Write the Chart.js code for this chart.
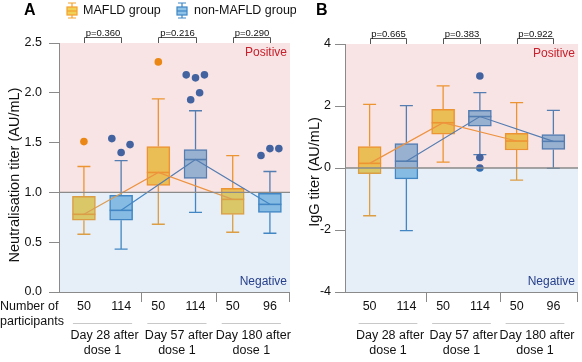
<!DOCTYPE html>
<html>
<head>
<meta charset="utf-8">
<script src="https://cdn.jsdelivr.net/npm/chart.js@4.4.1/dist/chart.umd.min.js"></script>
<style>
html, body { margin: 0; padding: 0; background: #fff; }
#wrap { position: relative; width: 582px; height: 362px; overflow: hidden; }
canvas { position: absolute; top: 0; }
#cA { left: 0; }
#cB { left: 296px; }
</style>
</head>
<body>
<div id="wrap">
  <canvas id="cA" width="296" height="362"></canvas>
  <canvas id="cB" width="286" height="362"></canvas>
</div>
<script>
const FONT = "'Liberation Sans', Arial, sans-serif";

// box slots on the x axis: odd = MAFLD, even = non-MAFLD
const mafldSlots = [1, 3, 5];
const nonSlots = [2, 4, 6];
const groupBounds = [2.57, 4.57];
const groupLine1 = ["Day 28 after", "Day 57 after", "Day 180 after"];
const groupLine2 = ["dose 1", "dose 1", "dose 1"];
const participants = [50, 114, 50, 114, 50, 96];

// panel A - neutralisation titer
const nabTicks = [0, 0.5, 1.0, 1.5, 2.0, 2.5];
const nabPValues = ["p=0.360", "p=0.216", "p=0.290"];
const nabMafldMin = [0.58, 0.68, 0.60];
const nabMafldQ1 = [0.72, 1.07, 0.78];
const nabMafldMed = [0.78, 1.20, 0.93];
const nabMafldQ3 = [0.96, 1.46, 1.04];
const nabMafldMax = [1.26, 1.94, 1.37];
const nabNonMin = [0.43, 0.80, 0.59];
const nabNonQ1 = [0.72, 1.14, 0.80];
const nabNonMed = [0.82, 1.33, 0.88];
const nabNonQ3 = [0.97, 1.43, 0.99];
const nabNonMax = [1.32, 1.82, 1.21];
const nabMafldOut = [[1.51], [2.31], []];
const nabMafldJit = [[0], [0], []];
const nabNonOut = [[1.54, 1.40, 1.48], [2.18, 2.15, 2.18, 1.93, 2.00], [1.37, 1.44, 1.44]];
const nabNonJit = [[-0.25, 0, 0.24], [-0.25, 0, 0.24, -0.13, 0.11], [-0.24, 0, 0.24]];

// panel B - IgG titer
const iggTicks = [-4, -2, 0, 2, 4];
const iggPValues = ["p=0.665", "p=0.383", "p=0.922"];
const iggMafldMin = [-1.54, 0.19, -0.39];
const iggMafldQ1 = [-0.18, 1.09, 0.58];
const iggMafldMed = [0.15, 1.46, 0.87];
const iggMafldQ3 = [0.69, 1.89, 1.12];
const iggMafldMax = [2.05, 2.65, 2.11];
const iggNonMin = [-2.02, 0.43, -0.01];
const iggNonQ1 = [-0.35, 1.35, 0.60];
const iggNonMed = [0.22, 1.66, 0.86];
const iggNonQ3 = [0.79, 1.86, 1.08];
const iggNonMax = [2.01, 2.43, 1.86];
const iggMafldOut = [[], [], []];
const iggMafldJit = [[], [], []];
const iggNonOut = [[], [2.97, 0.34, 0.0], []];
const iggNonJit = [[], [0, 0, 0], []];

const MAFLD_FILL = "#f0d257", MAFLD_EDGE = "#f3a12e", MAFLD_DOT = "#f0930c";
const NON_FILL = "#8fc4e8", NON_EDGE = "#3f86c4", NON_DOT = "#2a68b0";

function boxSet(label, slots, min, q1, med, q3, max, fill, edge) {
    return {
        type: "bar", label: label, order: 3,
        data: slots.map((s, i) => ({ x: s, y: [q1[i], q3[i]] })),
        backgroundColor: fill, borderColor: edge, borderWidth: 1.5,
        borderSkipped: false, barThickness: 23, grouped: false,
        wMin: min, wQ1: q1, wMed: med, wQ3: q3, wMax: max,
    };
}

function medianLine(slots, med, color) {
    return {
        type: "line", order: 2,
        data: slots.map((s, i) => ({ x: s, y: med[i] })),
        borderColor: color, borderWidth: 1.2, pointRadius: 0, fill: false, tension: 0,
    };
}

function outlierSet(slots, out, jit, color) {
    return {
        type: "scatter", order: 1,
        data: slots.flatMap((s, i) => out[i].map((v, j) => ({ x: s + jit[i][j], y: v }))),
        pointRadius: 3.8, pointBackgroundColor: color, pointBorderWidth: 0,
    };
}

function drawIcon(ctx, x, y, fill, edge) {
    ctx.save();
    ctx.strokeStyle = edge; ctx.fillStyle = fill; ctx.lineWidth = 1.2;
    ctx.beginPath();
    ctx.moveTo(x + 1, y); ctx.lineTo(x + 9, y);
    ctx.moveTo(x + 5, y); ctx.lineTo(x + 5, y + 15);
    ctx.moveTo(x + 1, y + 15); ctx.lineTo(x + 9, y + 15);
    ctx.stroke();
    ctx.fillRect(x, y + 4, 10, 8);
    ctx.strokeRect(x, y + 4, 10, 8);
    ctx.beginPath(); ctx.moveTo(x, y + 8); ctx.lineTo(x + 10, y + 8); ctx.stroke();
    ctx.restore();
}

const boxDeco = {
    id: "boxDeco",
    afterDatasetDraw(chart, args) {
        const ds = chart.data.datasets[args.index];
        if (!ds.wMin) return;
        const y = chart.scales.y, ctx = chart.ctx;
        ctx.save();
        ctx.strokeStyle = ds.borderColor;
        args.meta.data.forEach((bar, i) => {
            const x = bar.x, hw = bar.width / 2, cap = 6.5;
            const pMin = y.getPixelForValue(ds.wMin[i]);
            const pQ1 = y.getPixelForValue(ds.wQ1[i]);
            const pMed = y.getPixelForValue(ds.wMed[i]);
            const pQ3 = y.getPixelForValue(ds.wQ3[i]);
            const pMax = y.getPixelForValue(ds.wMax[i]);
            ctx.lineWidth = 1.3;
            ctx.beginPath();
            ctx.moveTo(x, pQ3); ctx.lineTo(x, pMax);
            ctx.moveTo(x - cap, pMax); ctx.lineTo(x + cap, pMax);
            ctx.moveTo(x, pQ1); ctx.lineTo(x, pMin);
            ctx.moveTo(x - cap, pMin); ctx.lineTo(x + cap, pMin);
            ctx.stroke();
            ctx.lineWidth = 1.6;
            ctx.beginPath(); ctx.moveTo(x - hw, pMed); ctx.lineTo(x + hw, pMed); ctx.stroke();
        });
        ctx.restore();
    },
    afterDatasetsDraw(chart, args, o) {
        const ctx = chart.ctx, ca = chart.chartArea, xs = chart.scales.x, ys = chart.scales.y;
        const yt = ys.getPixelForValue(o.threshold);
        ctx.save();
        // positive / negative bands over the boxes
        ctx.fillStyle = "rgba(208,75,75,0.15)";
        ctx.fillRect(ca.left + 1, ca.top, ca.right - ca.left - 1, yt - ca.top);
        ctx.fillStyle = "rgba(88,142,202,0.15)";
        ctx.fillRect(ca.left + 1, yt, ca.right - ca.left - 1, ca.bottom - yt);
        ctx.strokeStyle = "#8a8a8a"; ctx.lineWidth = 1.3;
        ctx.beginPath(); ctx.moveTo(ca.left, yt); ctx.lineTo(ca.right, yt); ctx.stroke();

        ctx.font = "12px " + FONT;
        ctx.textAlign = "right"; ctx.textBaseline = "alphabetic";
        ctx.fillStyle = "#c8202c";
        ctx.fillText("Positive", ca.right - 3, ca.top + 13);
        ctx.fillStyle = "#27408b";
        ctx.fillText("Negative", ca.right - 3, ca.bottom - 7);

        // bottom axis with group separators
        ctx.strokeStyle = "#8a8a8a"; ctx.lineWidth = 1;
        ctx.beginPath();
        ctx.moveTo(ca.left, ca.bottom + 0.5); ctx.lineTo(ca.right, ca.bottom + 0.5);
        groupBounds.concat([xs.max]).forEach(b => {
            const px = Math.round(xs.getPixelForValue(b)) - 0.5;
            ctx.moveTo(px, ca.bottom); ctx.lineTo(px, ca.bottom + 10);
        });
        ctx.stroke();

        ctx.fillStyle = "#111"; ctx.textAlign = "center"; ctx.textBaseline = "middle";
        ctx.font = "12.5px " + FONT;
        participants.forEach((n, i) => {
            ctx.fillText(String(n), xs.getPixelForValue(i + 1), 307);
        });
        ctx.strokeStyle = "#c8c8c8";
        groupLine1.forEach((t, g) => {
            const a = xs.getPixelForValue(mafldSlots[g]), b = xs.getPixelForValue(nonSlots[g]);
            ctx.beginPath(); ctx.moveTo(a - 11, 323.5); ctx.lineTo(b + 11, 323.5); ctx.stroke();
            const mid = (a + b) / 2;
            ctx.fillText(t, mid + 2, 336);
            ctx.fillText(groupLine2[g], mid, 351);
        });
        if (o.rowLabels) {
            ctx.textAlign = "left";
            ctx.fillText("Number of", 0, 307);
            ctx.fillText("participants", 0, 322);
        }

        // p-value brackets
        ctx.strokeStyle = "#555"; ctx.lineWidth = 1;
        ctx.font = "9.5px " + FONT; ctx.textAlign = "center";
        o.pValues.forEach((p, g) => {
            const a = Math.round(xs.getPixelForValue(mafldSlots[g])) + 0.5;
            const b = Math.round(xs.getPixelForValue(nonSlots[g])) + 0.5;
            const top = ca.top - 5.5;
            ctx.beginPath();
            ctx.moveTo(a, ca.top); ctx.lineTo(a, top); ctx.lineTo(b, top); ctx.lineTo(b, ca.top);
            ctx.stroke();
            ctx.fillText(p, (a + b) / 2, top - 4.5);
        });

        // y axis title
        ctx.save();
        ctx.translate(o.titleX, o.titleY);
        ctx.rotate(-Math.PI / 2);
        ctx.font = "14.5px " + FONT; ctx.fillStyle = "#111";
        ctx.fillText(o.title, 0, 0);
        ctx.restore();

        // panel letter and legend
        ctx.font = "bold 16px " + FONT; ctx.fillStyle = "#000";
        ctx.textAlign = "left";
        ctx.fillText(o.letter, o.letterX, 11);
        if (o.legend) {
            drawIcon(ctx, 67, 3, MAFLD_FILL, MAFLD_EDGE);
            drawIcon(ctx, 177, 3, NON_FILL, NON_EDGE);
            ctx.font = "12.5px " + FONT; ctx.fillStyle = "#111";
            ctx.fillText("MAFLD group", 83, 11);
            ctx.fillText("non-MAFLD group", 194, 11);
        }
        ctx.restore();
    },
};

function makeChart(id, p) {
    return new Chart(document.getElementById(id), {
        type: "bar",
        data: {
            datasets: [
                boxSet("MAFLD group", mafldSlots, p.mMin, p.mQ1, p.mMed, p.mQ3, p.mMax, MAFLD_FILL, MAFLD_EDGE),
                boxSet("non-MAFLD group", nonSlots, p.nMin, p.nQ1, p.nMed, p.nQ3, p.nMax, NON_FILL, NON_EDGE),
                medianLine(mafldSlots, p.mMed, "#f2a040"),
                medianLine(nonSlots, p.nMed, "#3f86c4"),
                outlierSet(mafldSlots, p.mOut, p.mJit, MAFLD_DOT),
                outlierSet(nonSlots, p.nOut, p.nJit, NON_DOT),
            ],
        },
        options: {
            responsive: false,
            devicePixelRatio: 1,
            animation: false,
            layout: { padding: { left: 0, right: p.padRight, top: p.padTop, bottom: 70 } },
            plugins: {
                legend: { display: false },
                tooltip: { enabled: false },
                boxDeco: p.deco,
            },
            scales: {
                x: { type: "linear", min: p.xMin, max: p.xMax, offset: false, display: false },
                y: {
                    min: p.ticks[0], max: p.ticks[p.ticks.length - 1],
                    afterBuildTicks: s => { s.ticks = p.ticks.map(v => ({ value: v })); },
                    afterFit: s => { s.width = p.axisWidth; },
                    ticks: {
                        font: { family: FONT, size: 12.5 }, color: "#111", padding: p.tickPad,
                        callback: p.fmt,
                    },
                    grid: { drawOnChartArea: false, drawTicks: true, tickLength: 10, color: "#8a8a8a" },
                    border: { display: true, color: "#8a8a8a" },
                },
            },
        },
        plugins: [boxDeco],
    });
}

makeChart("cA", {
    mMin: nabMafldMin, mQ1: nabMafldQ1, mMed: nabMafldMed, mQ3: nabMafldQ3, mMax: nabMafldMax,
    nMin: nabNonMin, nQ1: nabNonQ1, nMed: nabNonMed, nQ3: nabNonQ3, nMax: nabNonMax,
    mOut: nabMafldOut, mJit: nabMafldJit, nOut: nabNonOut, nJit: nabNonJit,
    ticks: nabTicks, fmt: v => Number(v).toFixed(1),
    xMin: 0.33, xMax: 6.54, axisWidth: 59, padRight: 6, padTop: 43, tickPad: 7,
    deco: {
        threshold: 1.0, pValues: nabPValues, rowLabels: true, legend: true,
        title: "Neutralisation titer (AU/mL)", titleX: 15, titleY: 175, letter: "A", letterX: 24,
    },
});

makeChart("cB", {
    mMin: iggMafldMin, mQ1: iggMafldQ1, mMed: iggMafldMed, mQ3: iggMafldQ3, mMax: iggMafldMax,
    nMin: iggNonMin, nQ1: iggNonQ1, nMed: iggNonMed, nQ3: iggNonQ3, nMax: iggNonMax,
    mOut: iggMafldOut, mJit: iggMafldJit, nOut: iggNonOut, nJit: iggNonJit,
    ticks: iggTicks, fmt: v => String(v),
    xMin: 0.33, xMax: 6.67, axisWidth: 49, padRight: 1, padTop: 44, tickPad: 4,
    deco: {
        threshold: 0, pValues: iggPValues, rowLabels: false, legend: false,
        title: "IgG titer (AU/mL)", titleX: 19, titleY: 172, letter: "B", letterX: 20,
    },
});
</script>
</body>
</html>
